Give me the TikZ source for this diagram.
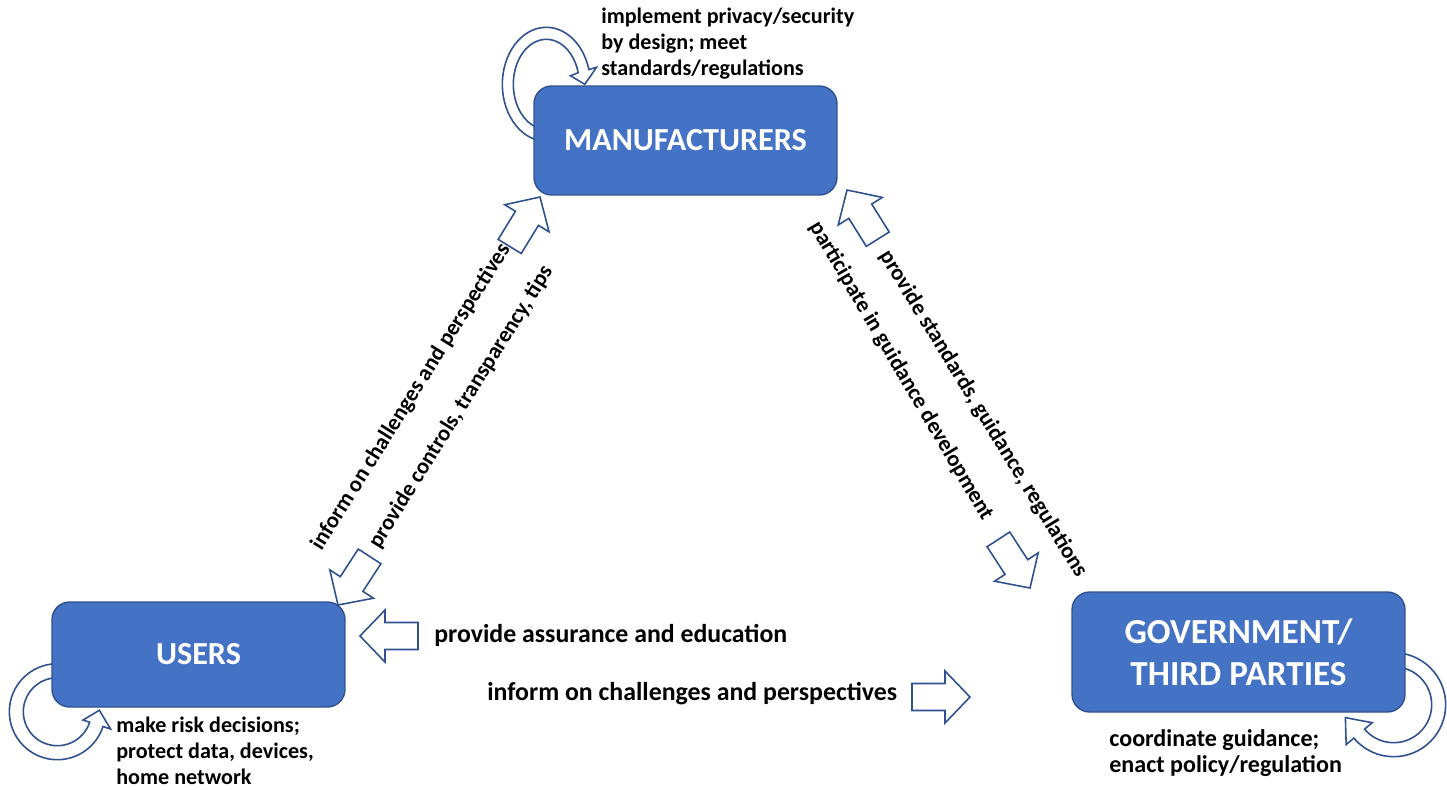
\documentclass[tikz,border=0pt]{standalone}
\usepackage{fontspec}
\setmainfont{Carlito}
\usetikzlibrary{calc,backgrounds}

\definecolor{boxblue}{HTML}{4472C4}
\definecolor{lineblue}{HTML}{2F528F}

\tikzset{
  party/.style={draw=lineblue, line width=0.8pt, fill=boxblue, rounded corners=10pt,
    text=white, font=\bfseries\fontsize{18.3}{22}\selectfont, inner sep=0pt},
  note/.style={font=\bfseries\fontsize{12.6}{14.7}\selectfont, align=left, inner sep=0pt},
  slant/.style={font=\bfseries\fontsize{12.8}{15}\selectfont, inner sep=0pt},
  flow/.style={font=\bfseries\fontsize{14.7}{17}\selectfont, inner sep=0pt},
  outline/.style={draw=lineblue, line width=0.9pt, fill=white, line join=miter},
  loopline/.style={draw=lineblue, line width=0.9pt},
  blockarrow/.pic={
    \draw[outline] (0,0) -- (-25,26) -- (-25,13.5) -- (-58,13.5) -- (-58,-13.5)
      -- (-25,-13.5) -- (-25,-26) -- cycle;
  }
}

\begin{document}
\begin{tikzpicture}[x=0.02cm, y=0.02cm]
  \useasboundingbox (0,0) rectangle (1447,-789);

  % parties
  \node[party, minimum width=6.06cm, minimum height=2.18cm] (manu) at (685.5,-140.5) {MANUFACTURERS};
  \node[party, minimum width=5.86cm, minimum height=2.1cm] (users) at (198.5,-654.5) {USERS};
  \node[party, minimum width=6.66cm, minimum height=2.4cm, align=center,
    font=\bfseries\fontsize{20}{23.8}\selectfont] (gov) at (1238.5,-652) {GOVERNMENT/\\THIRD PARTIES};

  % self loops, behind the boxes
  \begin{scope}[on background layer]
    \coordinate (mc) at ($(manu.north west)+(13,1)$);
    \coordinate (uc) at ($(users.south west)+(6,-4)$);
    \coordinate (gc) at ($(gov.south east)+(-12,8)$);
    \draw[loopline] ($(mc)+(260:44 and 57)$) arc[start angle=260, end angle=15, x radius=44, y radius=57]
      -- ($(mc)+(15:52 and 66)$) -- ($(mc)+(0:38.5 and 51)$) -- ($(mc)+(15:25 and 33)$)
      -- ($(mc)+(15:33 and 45)$) arc[start angle=15, end angle=260, x radius=33, y radius=45] -- cycle;
    \draw[loopline] ($(uc)+(90:48)$) arc[start angle=90, end angle=342, radius=48]
      -- ($(uc)+(342:56)$) -- ($(uc)+(362:42)$) -- ($(uc)+(342:27)$)
      -- ($(uc)+(342:34)$) arc[start angle=342, end angle=90, radius=34] -- cycle;
    \draw[loopline] ($(gc)+(90:52)$) arc[start angle=90, end angle=-140, radius=52]
      -- ($(gc)+(-140:62)$) -- ($(gc)+(-165:50)$) -- ($(gc)+(-140:28)$)
      -- ($(gc)+(-140:38)$) arc[start angle=-140, end angle=90, radius=38] -- cycle;
  \end{scope}

  % own roles
  \node[note, anchor=north west] (manunote) at (601,-8) {implement privacy/security\\by design; meet\\standards/regulations};
  \node[note, anchor=north west] (usersnote) at (116,-717) {make risk decisions;\\protect data, devices,\\home network};
  \node[note, anchor=north west, font=\bfseries\fontsize{13.7}{14.9}\selectfont] (govnote) at (1109,-729) {coordinate guidance;\\enact policy/regulation};

  % users <-> manufacturers
  \pic[rotate=58.5] at (540,-197) {blockarrow};
  \pic[rotate=237] at (338,-605) {blockarrow};
  \node[slant, rotate=58] (informmanu) at (411,-397) {inform on challenges and perspectives};
  \node[slant, rotate=58] (controls) at (461,-407) {provide controls, transparency, tips};

  % manufacturers <-> government
  \pic[rotate=122] at (847,-190) {blockarrow};
  \pic[rotate=-57] at (1030,-588) {blockarrow};
  \node[slant, rotate=-58.5] (standards) at (983,-414) {provide standards, guidance, regulations};
  \node[slant, rotate=-59.5] (participate) at (901,-371) {participate in guidance development};

  % government <-> users
  \pic[rotate=180] at (360,-636) {blockarrow};
  \pic at (970,-697) {blockarrow};
  \node[flow, anchor=west] (assurance) at (434,-635) {provide assurance and education};
  \node[flow, anchor=west] (informgov) at (487,-694) {inform on challenges and perspectives};
\end{tikzpicture}
\end{document}
